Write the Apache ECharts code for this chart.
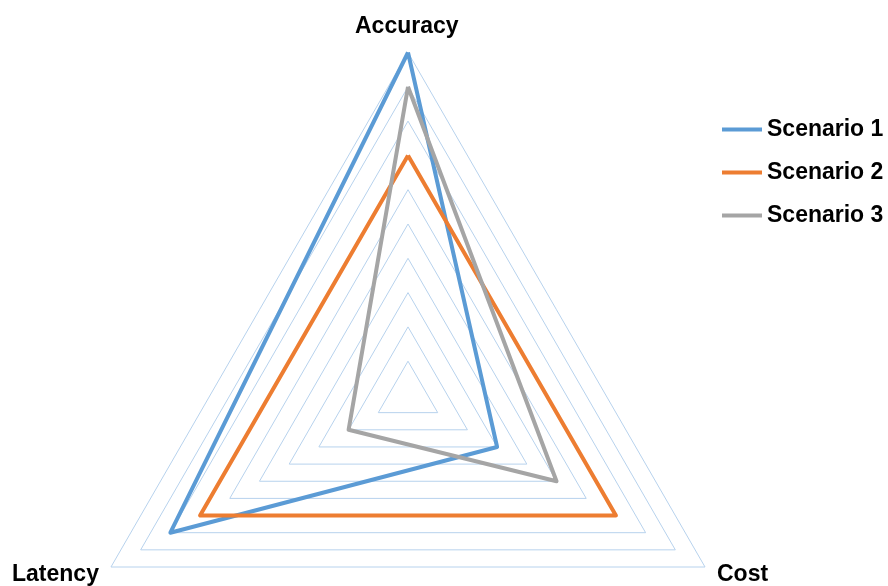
<!DOCTYPE html>
<html>
<head>
<meta charset="utf-8">
<script src="https://cdn.jsdelivr.net/npm/echarts@6/dist/echarts.min.js"></script>
<style>
  html, body { margin: 0; padding: 0; background: #fff; }
  #chart { width: 888px; height: 586px; }
</style>
</head>
<body>
<div id="chart"></div>
<script>
// indicator order goes counter-clockwise from the top
var axisNames = ['Accuracy', 'Latency', 'Cost'];
var axisMax = 10;
var seriesNames = ['Scenario 1', 'Scenario 2', 'Scenario 3'];
var scenario1 = [10, 8, 3];
var scenario2 = [7, 7, 7];
var scenario3 = [9, 2, 5];
var colors = ['#5B9BD5', '#ED7D31', '#A5A5A5'];

var font = 'bold 23px "Liberation Sans", Arial, sans-serif';

var indicator = [];
for (var i = 0; i < axisNames.length; i++) {
    indicator.push({ name: axisNames[i], max: axisMax, min: 0 });
}

var values = [scenario1, scenario2, scenario3];
var series = [];
for (var k = 0; k < values.length; k++) {
    series.push({
        type: 'radar',
        name: seriesNames[k],
        symbol: 'none',
        lineStyle: { color: colors[k], width: 4 },
        itemStyle: { color: colors[k] },
        data: [{ value: values[k], name: seriesNames[k] }]
    });
}

var chart = echarts.init(document.getElementById('chart'));
chart.setOption({
    animation: false,
    color: colors,
    legend: {
        orient: 'vertical',
        left: 717,
        top: 113,
        itemWidth: 40,
        itemHeight: 4,
        itemGap: 20,
        icon: 'rect',
        data: seriesNames,
        textStyle: {
            color: '#000',
            fontSize: 23,
            fontWeight: 'bold',
            fontFamily: '"Liberation Sans", Arial, sans-serif'
        }
    },
    radar: {
        center: [408, 395.5],
        radius: 343,
        shape: 'polygon',
        splitNumber: 10,
        startAngle: 90,
        indicator: indicator,
        axisName: { show: false },
        axisLine: { show: false },
        axisTick: { show: false },
        axisLabel: { show: false },
        splitArea: { show: false },
        splitLine: { lineStyle: { color: '#b7d2ed', width: 1 } }
    },
    graphic: [
        { type: 'text', left: 355, top: 15, style: { text: axisNames[0], font: font, fill: '#000' } },
        { type: 'text', left: 12, top: 563, style: { text: axisNames[1], font: font, fill: '#000' } },
        { type: 'text', left: 717, top: 563, style: { text: axisNames[2], font: font, fill: '#000' } }
    ],
    series: series
});
</script>
</body>
</html>
